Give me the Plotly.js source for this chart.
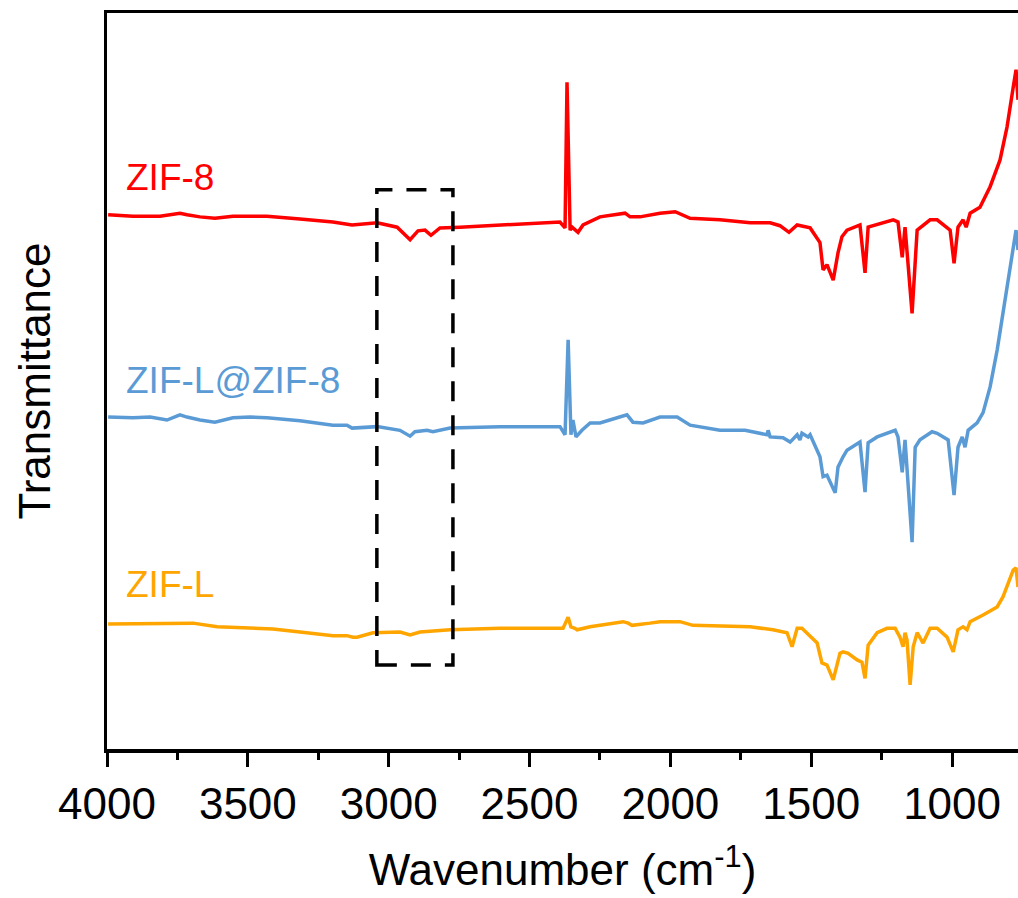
<!DOCTYPE html>
<html>
<head>
<meta charset="utf-8">
<script src="https://cdn.plot.ly/plotly-3.0.1.min.js"></script>
<style>
  html, body { margin: 0; padding: 0; background: #fff; }
  #chart { width: 1018px; height: 898px; }
</style>
</head>
<body>
<div id="chart"></div>
<script>
// ZIF-8 (red)
const zif8_wn = [3996,3908,3812,3741,3716,3670,3617,3553,3492,3432,3315,3198,3130,3041,2970,2924,2896,2871,2850,2818,2747,2605,2392,2374,2367,2356,2349,2328,2310,2250,2161,2143,2108,2037,1983,1930,1824,1717,1646,1611,1579,1550,1504,1469,1458,1444,1422,1405,1391,1373,1327,1309,1298,1209,1192,1177,1167,1142,1124,1078,1053,1007,993,979,961,950,936,901,865,830,805,783,773,766];
const zif8_T  = [72.6,72.4,72.4,72.8,72.6,72.3,72.1,72.4,72.4,72.4,72.0,71.6,71.2,71.5,70.9,69.2,70.4,70.5,69.8,70.8,70.9,71.2,71.6,70.8,90.6,70.5,70.9,70.2,71.2,72.3,72.8,72.3,72.3,72.8,73.0,72.1,71.9,71.5,71.5,71.1,70.2,71.2,70.8,68.8,65.1,65.8,63.7,67.4,69.6,70.5,71.2,64.7,70.9,71.9,71.6,66.8,70.9,59.2,70.5,71.9,71.9,70.5,66.0,70.9,71.9,70.9,72.8,73.6,76.4,80.0,84.5,89.9,92.3,88.2];

// ZIF-L@ZIF-8 (blue)
const zifLat8_wn = [3996,3908,3847,3787,3741,3716,3670,3617,3553,3492,3432,3315,3198,3148,3130,3041,2960,2924,2907,2864,2843,2782,2605,2488,2392,2374,2363,2353,2346,2335,2314,2285,2250,2189,2154,2133,2097,2037,1976,1930,1824,1735,1657,1653,1646,1600,1575,1550,1540,1533,1511,1504,1493,1469,1458,1444,1415,1405,1387,1373,1327,1309,1298,1266,1202,1192,1177,1167,1142,1131,1114,1071,1053,1014,993,979,964,954,943,911,890,865,840,812,787,773,766];
const zifLat8_T  = [45.1,45.0,45.1,44.7,45.4,45.1,44.7,44.4,45.0,45.1,45.0,44.6,44.0,44.0,43.6,43.8,43.3,42.5,43.1,43.3,43.1,43.6,43.8,43.8,43.8,42.7,55.6,42.7,44.7,42.4,43.3,44.3,44.3,45.0,45.4,44.4,44.3,45.1,45.1,44.0,43.3,43.3,42.7,43.3,42.4,42.3,41.7,42.7,42.0,42.9,42.4,42.7,41.7,39.7,37.0,37.2,34.8,38.3,39.7,40.6,41.7,34.9,41.6,42.4,43.3,42.4,37.6,42.0,28.1,41.0,42.0,43.1,42.9,42.0,34.5,41.0,42.4,41.0,43.3,44.3,45.7,49.2,54.2,61.0,67.8,70.5,67.8];

// ZIF-L (orange)
const zifL_wn = [3996,3908,3787,3695,3609,3492,3411,3315,3198,3148,3127,3112,3056,2960,2924,2889,2782,2605,2488,2381,2363,2353,2339,2331,2285,2168,2150,2136,2072,2037,1966,1920,1717,1636,1586,1568,1550,1533,1479,1462,1444,1422,1398,1387,1369,1337,1320,1309,1298,1266,1231,1202,1185,1174,1167,1160,1149,1138,1124,1114,1103,1078,1053,1018,996,979,961,947,936,890,840,819,783,773,766];
const zifL_T  = [17.0,17.0,17.1,17.1,16.6,16.4,16.3,15.9,15.4,15.4,15.2,15.2,15.8,15.9,15.5,15.9,16.2,16.4,16.4,16.4,17.9,16.6,16.4,16.2,16.6,17.3,17.1,16.8,17.1,17.3,17.3,16.8,16.6,16.2,15.8,13.9,16.4,16.4,14.4,11.7,11.4,9.4,13.0,13.2,13.0,12.1,11.8,9.6,14.1,15.8,16.4,16.4,15.2,13.9,15.8,14.8,8.7,13.9,15.8,15.2,14.4,16.4,16.4,15.2,13.2,16.2,16.6,16.2,17.3,18.2,19.3,20.7,24.3,24.6,22.0];

const seriesNames = ["ZIF-8", "ZIF-L@ZIF-8", "ZIF-L"];
const seriesColors = ["#FF0000", "#5B9BD5", "#FFA500"];
const labelY = [77.7, 50.1, 22.3];
const labelX = 3940;

// highlighted region (dashed box)
const boxWn = [3042, 2772];
const boxT = [11.4, 76.0];

const xTicks = [4000, 3500, 3000, 2500, 2000, 1500, 1000];

const FONT = "Liberation Sans, Arial, sans-serif";

const data = [
  {x: zif8_wn, y: zif8_T, name: seriesNames[0]},
  {x: zifLat8_wn, y: zifLat8_T, name: seriesNames[1]},
  {x: zifL_wn, y: zifL_T, name: seriesNames[2]}
].map((t, i) => Object.assign(t, {
  type: "scatter", mode: "lines",
  line: {color: seriesColors[i], width: 3.5},
  showlegend: false, hoverinfo: "skip"
}));

const layout = {
  width: 1018, height: 898,
  margin: {l: 107, r: 0, t: 13, b: 149},
  paper_bgcolor: "#fff", plot_bgcolor: "#fff",
  font: {family: FONT, color: "#000"},
  showlegend: false,
  xaxis: {
    range: [4000, 766],
    tickvals: xTicks,
    ticktext: xTicks.map(String),
    ticks: "outside", ticklen: 14, tickwidth: 3, tickcolor: "#000",
    minor: {dtick: 250, tick0: 0, ticks: "outside", ticklen: 7, tickwidth: 3, tickcolor: "#000"},
    showline: true, linewidth: 3.5, linecolor: "#000", mirror: true,
    showgrid: false, zeroline: false,
    tickfont: {size: 44, family: FONT, color: "#000"},
    title: {text: "Wavenumber (cm<sup>-1</sup>)", font: {size: 44, family: FONT, color: "#000"}, standoff: 28}
  },
  yaxis: {
    range: [0, 100],
    showticklabels: false, ticks: "",
    showline: true, linewidth: 3.5, linecolor: "#000", mirror: false,
    showgrid: false, zeroline: false,
    title: {text: "Transmittance", font: {size: 44, family: FONT, color: "#000"}, standoff: 40}
  },
  shapes: [{
    type: "rect", xref: "x", yref: "y",
    x0: boxWn[0], x1: boxWn[1], y0: boxT[0], y1: boxT[1],
    line: {color: "#000", width: 3.5, dash: "20px,14px"},
    fillcolor: "rgba(0,0,0,0)"
  }],
  annotations: seriesNames.map((n, i) => ({
    x: labelX, y: labelY[i], xref: "x", yref: "y",
    text: n, showarrow: false, xanchor: "left", yanchor: "middle",
    font: {size: 37, family: FONT, color: seriesColors[i]}
  }))
};

Plotly.newPlot("chart", data, layout, {staticPlot: true, displayModeBar: false});
</script>
</body>
</html>
